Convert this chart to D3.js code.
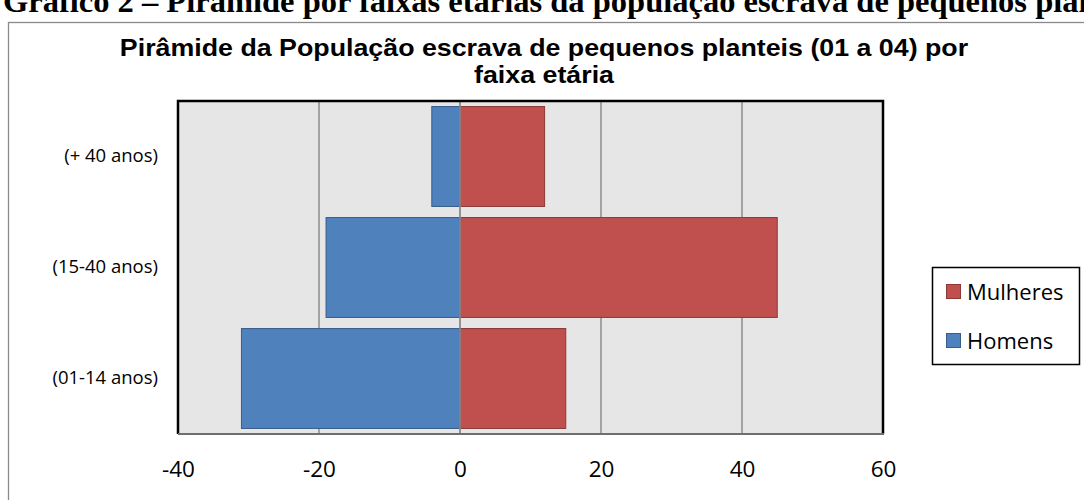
<!DOCTYPE html>
<html>
<head>
<meta charset="utf-8">
<script src="https://cdn.jsdelivr.net/npm/d3@7"></script>
<style>
  html, body { margin: 0; padding: 0; background: #fff; overflow: hidden; }
  svg { display: block; }
</style>
</head>
<body>
<svg id="chart" width="1084" height="500"></svg>
<script>
// Age groups, top to bottom
const categories = ["(+ 40 anos)", "(15-40 anos)", "(01-14 anos)"];
// Men are plotted as negative values, women as positive
const homens = [-4, -19, -31];
const mulheres = [12, 45, 15];
const xTicks = [-40, -20, 0, 20, 40, 60];
const seriesNames = ["Mulheres", "Homens"];

const svg = d3.select("#chart");
const plot = { left: 178, right: 883, top: 101, bottom: 434 };

const blue = "#4f81bd", blueStroke = "#385d8a";
const red = "#c0504d", redStroke = "#8c3836";
const bodyFont = "Open Sans, Carlito, Calibri, sans-serif";

// Document heading above the chart (runs past the top and right edges)
svg.append("text")
  .attr("x", 3).attr("y", 12)
  .attr("font-family", "Liberation Serif, Times New Roman, serif")
  .attr("font-weight", "bold")
  .attr("font-size", 32.5)
  .attr("fill", "#000")
  .text("Gráfico 2 – Pirâmide por faixas etárias da população escrava de pequenos plantéis");

// Chart frame
svg.append("rect")
  .attr("x", 8.5).attr("y", 22.5)
  .attr("width", 1100).attr("height", 500)
  .attr("fill", "#fff")
  .attr("stroke", "#8a8a8a").attr("stroke-width", 1.3);

// Chart title, slightly widened
const title = svg.append("text")
  .attr("text-anchor", "middle")
  .attr("transform", "translate(544,0) scale(1.14,1)")
  .attr("font-family", "Liberation Sans, Arial, sans-serif")
  .attr("font-weight", "bold")
  .attr("font-size", 23.5)
  .attr("fill", "#000");
title.append("tspan").attr("x", 0).attr("y", 56)
  .text("Pirâmide da População escrava de pequenos planteis (01 a 04) por");
title.append("tspan").attr("x", 0).attr("y", 83)
  .text("faixa etária");

const x = d3.scaleLinear()
  .domain([d3.min(xTicks), d3.max(xTicks)])
  .range([plot.left, plot.right]);

const y = d3.scaleBand()
  .domain(categories)
  .range([plot.top, plot.bottom])
  .paddingInner(0.1)
  .paddingOuter(0.05);

// Plot background
svg.append("rect")
  .attr("x", plot.left).attr("y", plot.top)
  .attr("width", plot.right - plot.left).attr("height", plot.bottom - plot.top)
  .attr("fill", "#e6e6e6");

// Vertical gridlines
svg.append("g")
  .selectAll("line")
  .data(xTicks.filter(t => t !== d3.min(xTicks) && t !== d3.max(xTicks)))
  .join("line")
  .attr("x1", d => x(d)).attr("x2", d => x(d))
  .attr("y1", plot.top).attr("y2", plot.bottom)
  .attr("stroke", "#8c8c8c").attr("stroke-width", 1.5);

// Bars
const rows = categories.map((c, i) => ({ cat: c, h: homens[i], m: mulheres[i] }));
const bars = svg.append("g");
bars.selectAll("rect.h")
  .data(rows).join("rect").attr("class", "h")
  .attr("x", d => x(d.h))
  .attr("y", d => y(d.cat))
  .attr("width", d => x(0) - x(d.h))
  .attr("height", y.bandwidth())
  .attr("fill", blue).attr("stroke", blueStroke).attr("stroke-width", 1);
bars.selectAll("rect.m")
  .data(rows).join("rect").attr("class", "m")
  .attr("x", x(0))
  .attr("y", d => y(d.cat))
  .attr("width", d => x(d.m) - x(0))
  .attr("height", y.bandwidth())
  .attr("fill", red).attr("stroke", redStroke).attr("stroke-width", 1);

// Zero line drawn over the bars
svg.append("line")
  .attr("x1", x(0)).attr("x2", x(0))
  .attr("y1", plot.top).attr("y2", plot.bottom)
  .attr("stroke", "#8c8c8c").attr("stroke-width", 1.5);

// Plot border: black on top/left/right, grey at the axis
svg.append("path")
  .attr("d", `M${plot.left},${plot.bottom} V${plot.top} H${plot.right} V${plot.bottom}`)
  .attr("fill", "none").attr("stroke", "#000").attr("stroke-width", 2.5);
svg.append("line")
  .attr("x1", plot.left).attr("x2", plot.right + 1)
  .attr("y1", plot.bottom).attr("y2", plot.bottom)
  .attr("stroke", "#6e6e6e").attr("stroke-width", 2);

// X axis labels (plain hyphen for negatives)
const xAxis = d3.axisBottom(x).tickValues(xTicks).tickSize(0).tickPadding(0)
  .tickFormat(d => String(d));
const gx = svg.append("g")
  .attr("transform", `translate(0,${plot.bottom})`)
  .call(xAxis);
gx.select(".domain").remove();
gx.selectAll("text")
  .attr("y", 0).attr("dy", 0)
  .attr("transform", "translate(0,43)")
  .attr("font-family", bodyFont)
  .attr("font-size", 22.5)
  .attr("fill", "#000");

// Y axis category labels
const yAxis = d3.axisLeft(y).tickSize(0).tickPadding(0);
const gy = svg.append("g")
  .attr("transform", `translate(${plot.left - 20},0)`)
  .call(yAxis);
gy.select(".domain").remove();
gy.selectAll("text")
  .attr("font-family", bodyFont)
  .attr("font-size", 18.5)
  .attr("fill", "#000");

// Legend
const lg = svg.append("g");
lg.append("rect")
  .attr("x", 932.5).attr("y", 267.5)
  .attr("width", 147).attr("height", 97)
  .attr("fill", "#fff").attr("stroke", "#000").attr("stroke-width", 1.5);
const legendColors = { "Mulheres": [red, redStroke], "Homens": [blue, blueStroke] };
const items = lg.selectAll("g.item")
  .data(seriesNames).join("g").attr("class", "item")
  .attr("transform", (d, i) => `translate(946,${284 + i * 49})`);
items.append("rect")
  .attr("x", 0.5).attr("y", 0.5).attr("width", 14).attr("height", 14)
  .attr("fill", d => legendColors[d][0])
  .attr("stroke", d => legendColors[d][1]).attr("stroke-width", 1);
items.append("text")
  .attr("x", 21).attr("y", 15.5)
  .attr("font-family", bodyFont)
  .attr("font-size", 22)
  .attr("fill", "#000")
  .text(d => d);
</script>
</body>
</html>
